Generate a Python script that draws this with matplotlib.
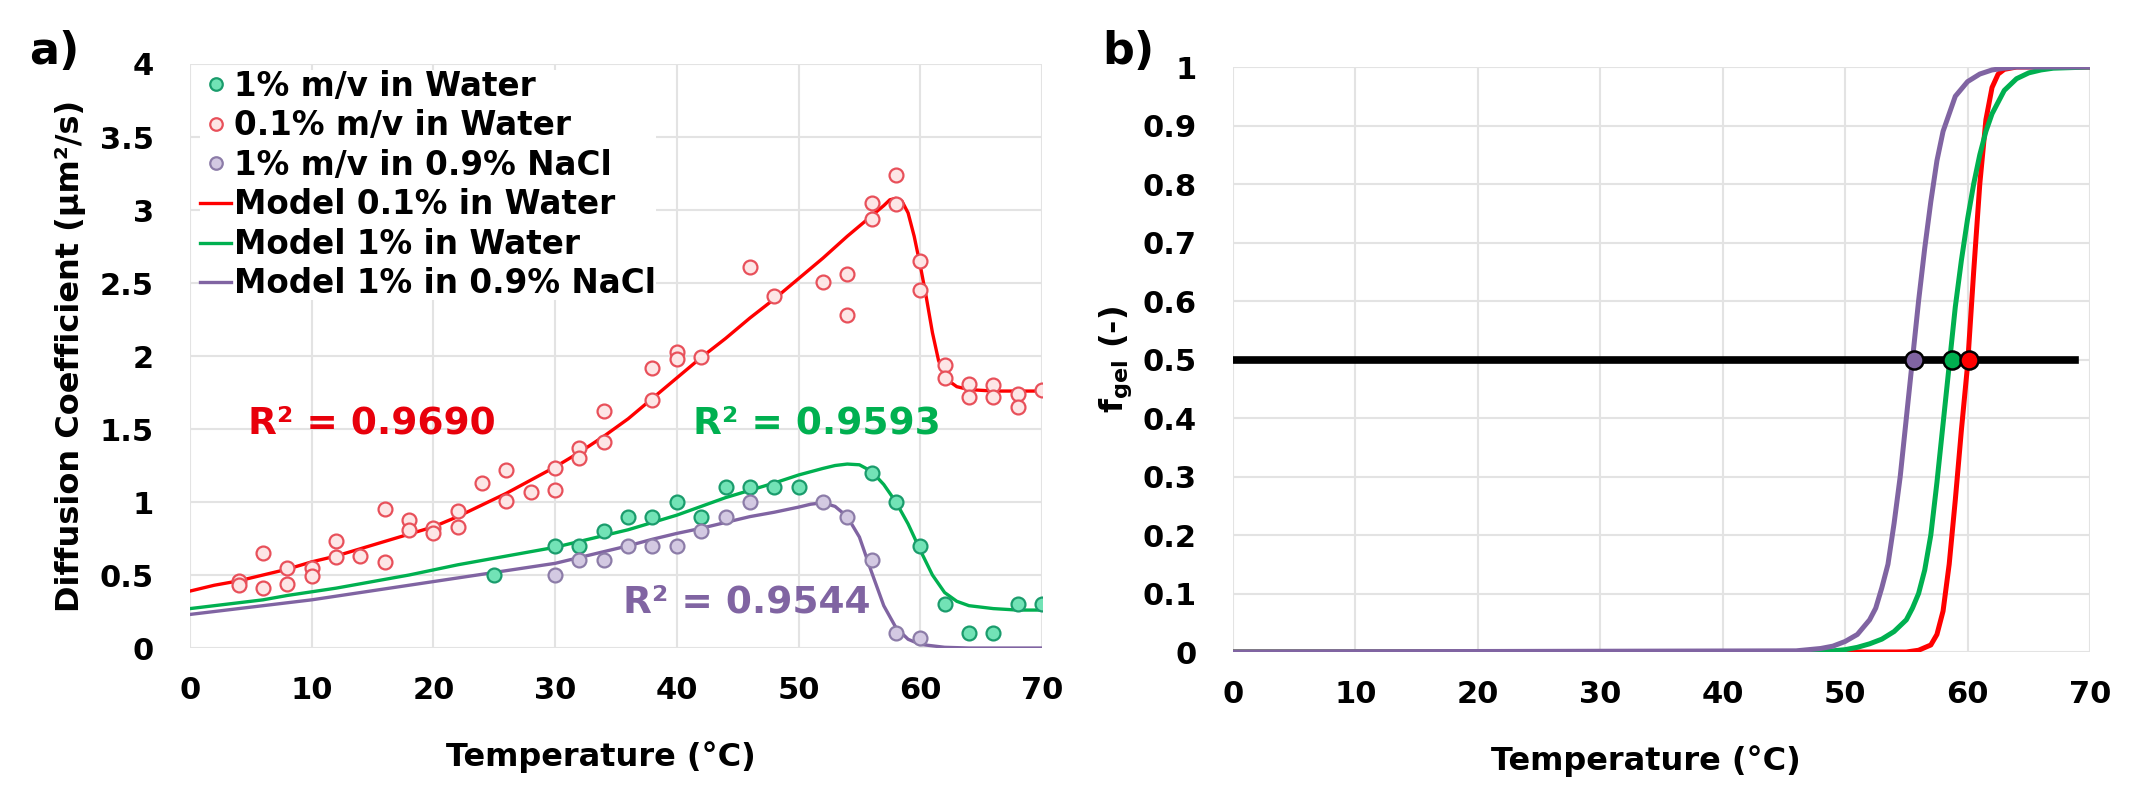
import numpy as np
import matplotlib
matplotlib.use("Agg")
import matplotlib.pyplot as plt
from matplotlib.ticker import FuncFormatter, MultipleLocator

plt.rcParams['font.family'] = ['DejaVu Sans']
plt.rcParams['font.weight'] = 'bold'

# ---- panel a) measured diffusion coefficients (um^2/s)
t_red = [4, 4, 6, 6, 8, 8, 10, 10, 12, 12, 14, 16, 16, 18, 18, 20, 20, 22, 22, 24,
         26, 26, 28, 30, 30, 32, 32, 34, 34, 38, 38, 40, 40, 42, 46, 48, 52, 54, 54,
         56, 56, 58, 58, 60, 60, 62, 62, 64, 64, 66, 66, 68, 68, 70]
d_red = [0.46, 0.43, 0.65, 0.41, 0.55, 0.44, 0.55, 0.49, 0.73, 0.62, 0.63, 0.95, 0.59,
         0.88, 0.81, 0.82, 0.79, 0.94, 0.83, 1.13, 1.22, 1.01, 1.07, 1.23, 1.08, 1.37,
         1.30, 1.62, 1.41, 1.92, 1.70, 2.03, 1.98, 1.99, 2.61, 2.41, 2.51, 2.56, 2.28,
         3.05, 2.94, 3.24, 3.04, 2.65, 2.45, 1.94, 1.85, 1.81, 1.72, 1.80, 1.72, 1.74,
         1.65, 1.77]

t_green = [25, 30, 32, 34, 36, 38, 40, 42, 44, 46, 48, 50, 56, 58, 60, 62, 64, 66, 68, 70]
d_green = [0.5, 0.7, 0.7, 0.8, 0.9, 0.9, 1.0, 0.9, 1.1, 1.1, 1.1, 1.1, 1.2, 1.0, 0.7,
           0.3, 0.1, 0.1, 0.3, 0.3]

t_purple = [30, 32, 34, 36, 38, 40, 42, 44, 46, 52, 54, 56, 58, 60]
d_purple = [0.5, 0.6, 0.6, 0.7, 0.7, 0.7, 0.8, 0.9, 1.0, 1.0, 0.9, 0.6, 0.1, 0.07]

# model curves
tm_red = [0, 2, 4, 6, 8, 10, 12, 14, 16, 18, 20, 22, 24, 26, 28, 30, 32, 34, 36, 38,
          40, 42, 44, 46, 48, 50, 52, 54, 56, 57, 57.5, 58, 58.5, 59, 59.5, 60, 60.5,
          61, 61.5, 62, 62.5, 63, 64, 66, 68, 70]
dm_red = [0.39, 0.43, 0.46, 0.50, 0.54, 0.59, 0.63, 0.68, 0.73, 0.78, 0.83, 0.90, 0.98,
          1.06, 1.15, 1.24, 1.34, 1.45, 1.57, 1.71, 1.85, 1.99, 2.12, 2.26, 2.39, 2.53,
          2.67, 2.82, 2.96, 3.03, 3.07, 3.08, 3.06, 2.98, 2.82, 2.62, 2.40, 2.16, 1.97,
          1.87, 1.82, 1.79, 1.77, 1.76, 1.76, 1.76]

tm_green = [0, 2, 4, 6, 8, 10, 12, 14, 16, 18, 20, 22, 24, 26, 28, 30, 32, 34, 36, 38,
            40, 42, 44, 46, 48, 50, 52, 53, 54, 55, 56, 57, 58, 59, 60, 61, 62, 63, 64,
            66, 68, 70]
dm_green = [0.27, 0.29, 0.31, 0.33, 0.36, 0.385, 0.41, 0.44, 0.47, 0.50, 0.535, 0.57,
            0.60, 0.63, 0.66, 0.69, 0.73, 0.77, 0.81, 0.86, 0.91, 0.97, 1.03, 1.08, 1.13,
            1.185, 1.23, 1.25, 1.26, 1.255, 1.21, 1.12, 1.00, 0.85, 0.67, 0.50, 0.38,
            0.32, 0.29, 0.27, 0.26, 0.26]

tm_purple = [0, 2, 4, 6, 8, 10, 12, 14, 16, 18, 20, 22, 24, 26, 28, 30, 32, 34, 36, 38,
             40, 42, 44, 46, 48, 50, 51, 52, 53, 54, 55, 56, 57, 58, 59, 60, 62, 64, 70]
dm_purple = [0.23, 0.25, 0.27, 0.29, 0.31, 0.33, 0.355, 0.38, 0.405, 0.43, 0.455, 0.48,
             0.505, 0.53, 0.555, 0.58, 0.62, 0.66, 0.70, 0.745, 0.785, 0.82, 0.86, 0.90,
             0.93, 0.965, 0.985, 0.995, 0.97, 0.90, 0.76, 0.52, 0.29, 0.14, 0.06, 0.025,
             0.005, 0.0, 0.0]

# ---- panel b) gel fraction
tf_red = [0, 55, 56, 57, 57.5, 58, 58.5, 59, 59.5, 60, 60.5, 61, 61.5, 62, 62.5, 63, 64, 70]
f_red = [0, 0, 0.003, 0.012, 0.03, 0.07, 0.15, 0.26, 0.38, 0.49, 0.65, 0.80, 0.91,
         0.965, 0.988, 0.996, 1.0, 1.0]
tf_green = [0, 48, 50, 51, 52, 53, 54, 55, 55.5, 56, 56.5, 57, 57.5, 58, 58.5, 59, 59.5,
            60, 60.5, 61, 61.5, 62, 63, 64, 65, 66, 67, 70]
f_green = [0, 0, 0.004, 0.008, 0.014, 0.022, 0.035, 0.055, 0.075, 0.10, 0.14, 0.20, 0.29,
           0.39, 0.49, 0.59, 0.67, 0.74, 0.80, 0.85, 0.89, 0.92, 0.96, 0.98, 0.99, 0.995,
           0.998, 1.0]
tf_purple = [0, 46, 48, 49, 50, 51, 52, 52.5, 53, 53.5, 54, 54.5, 55, 55.5, 56, 56.5, 57,
             57.5, 58, 59, 60, 61, 62, 63, 64, 70]
f_purple = [0, 0.002, 0.006, 0.01, 0.018, 0.03, 0.055, 0.075, 0.11, 0.15, 0.22, 0.30,
            0.40, 0.50, 0.60, 0.69, 0.77, 0.84, 0.89, 0.95, 0.975, 0.988, 0.995, 0.998,
            1.0, 1.0]

half_x = [0, 68.8]
half_y = [0.5, 0.5]
t_half = [55.6, 58.7, 60.1]

RED = '#ff0000'
GREEN = '#00b050'
PURPLE = '#8064a2'
GRID = '#e3e3e3'

fig = plt.figure(figsize=(21.44, 7.96), dpi=100)
ax1 = fig.add_axes([0.0886, 0.1859, 0.3974, 0.7337])
ax2 = fig.add_axes([0.5751, 0.1809, 0.3997, 0.7349])

fmt = FuncFormatter(lambda v, p: '%g' % round(v, 2))
for ax in (ax1, ax2):
    ax.set_xlim(0, 70)
    ax.xaxis.set_major_locator(MultipleLocator(10))
    ax.grid(True, color=GRID, lw=1.5)
    ax.set_axisbelow(True)
    for s in ax.spines.values():
        s.set_visible(False)
    ax.tick_params(axis='y', length=0, labelsize=22, pad=26)
    ax.tick_params(axis='x', length=0, labelsize=22, pad=20)
    ax.yaxis.set_major_formatter(fmt)
    ax.set_xlabel('Temperature (°C)', fontsize=23, fontweight='bold')
    ax.xaxis.set_label_coords(0.482, -0.16)

# panel a
ax1.set_ylim(0, 4)
ax1.yaxis.set_major_locator(MultipleLocator(0.5))
ax1.plot(tm_red, dm_red, color=RED, lw=2.4, label='Model 0.1% in Water', zorder=2)
ax1.plot(tm_green, dm_green, color=GREEN, lw=2.4, label='Model 1% in Water', zorder=2)
ax1.plot(tm_purple, dm_purple, color=PURPLE, lw=2.4, label='Model 1% in 0.9% NaCl', zorder=2)
ax1.plot(t_green, d_green, 'o', ms=10, mfc='#72e3b6', mec='#1a9c6c', mew=1.6,
         label='1% m/v in Water', zorder=3)
ax1.plot(t_red, d_red, 'o', ms=10, mfc='#fde6e6', mec='#e8505a', mew=1.6,
         label='0.1% m/v in Water', zorder=3)
ax1.plot(t_purple, d_purple, 'o', ms=10, mfc='#d3c9e2', mec='#8c7ca8', mew=1.6,
         label='1% m/v in 0.9% NaCl', zorder=3)
ax1.set_ylabel('Diffusion Coefficient (μm²/s)', fontsize=23, fontweight='bold')
ax1.yaxis.set_label_coords(-0.122, 0.5)

handles, labels = ax1.get_legend_handles_labels()
order = [3, 4, 5, 0, 1, 2]
leg = ax1.legend([handles[i] for i in order], [labels[i] for i in order],
                 loc='upper left', bbox_to_anchor=(0.012, 0.99), fontsize=23.5,
                 frameon=True, framealpha=1, edgecolor='none', borderpad=0,
                 labelspacing=0.2, handlelength=0.95, handletextpad=0.1,
                 borderaxespad=0, markerscale=0.9)
leg.set_zorder(5)

ax1.text(4.8, 1.54, 'R² = 0.9690', color='#e8000b', fontsize=27, fontweight='bold',
         va='center', ha='left')
ax1.text(41.3, 1.54, 'R² = 0.9593', color=GREEN, fontsize=27, fontweight='bold',
         va='center', ha='left')
ax1.text(35.6, 0.31, 'R² = 0.9544', color=PURPLE, fontsize=27, fontweight='bold',
         va='center', ha='left')

# panel b
ax2.set_ylim(0, 1)
ax2.yaxis.set_major_locator(MultipleLocator(0.1))
ax2.plot(tf_red, f_red, color=RED, lw=3.6, zorder=2)
ax2.plot(tf_green, f_green, color=GREEN, lw=3.6, zorder=2)
ax2.plot(tf_purple, f_purple, color=PURPLE, lw=3.6, zorder=2)
ax2.plot(half_x, half_y, color='black', lw=5.5, zorder=3)
for t, c in zip(t_half, [PURPLE, GREEN, RED]):
    ax2.plot([t], [0.5], 'o', ms=13, mfc=c, mec='black', mew=1.8, zorder=4)
ax2.set_ylabel('f$_{\\mathbf{gel}}$ (-)', fontsize=23, fontweight='bold')
ax2.yaxis.set_label_coords(-0.115, 0.5)

fig.text(54 / 2144, 1 - 52 / 796, 'a)', fontsize=32, fontweight='bold', ha='center', va='center')
fig.text(1128 / 2144, 1 - 51 / 796, 'b)', fontsize=32, fontweight='bold', ha='center', va='center')

fig.savefig('out.png', dpi=100)
